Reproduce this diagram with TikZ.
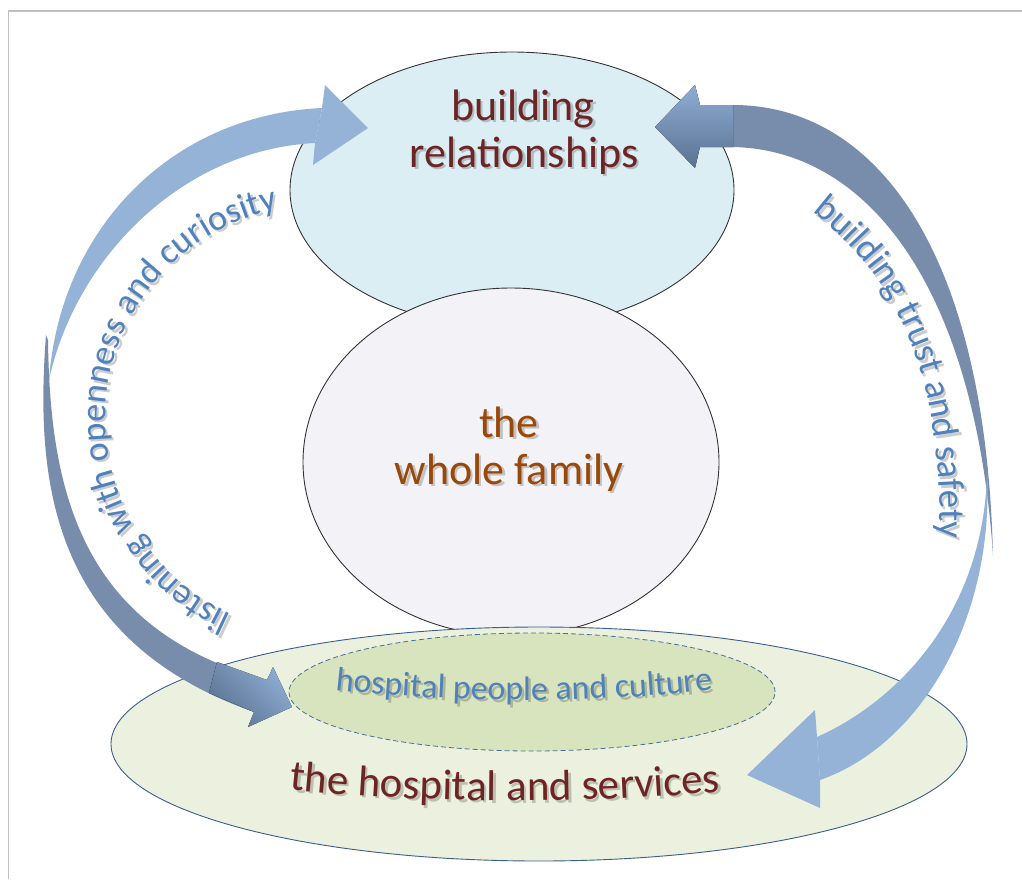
\documentclass[tikz,border=0pt]{standalone}
\usepackage{fontspec}
\setmainfont{Carlito}
\usetikzlibrary{shapes.geometric,decorations.text}

% palette
\definecolor{relfill}{HTML}{DBEEF4}
\definecolor{famfill}{HTML}{F3F2F7}
\definecolor{hospfill}{HTML}{EBF1DE}
\definecolor{culturefill}{HTML}{D7E4BD}
\definecolor{hospline}{HTML}{3B5E8C}
\definecolor{dashline}{HTML}{4A6E9C}
\definecolor{bandlight}{HTML}{95B3D7}
\definecolor{banddark}{HTML}{778DAB}
\definecolor{headlight}{HTML}{8FADD4}
\definecolor{headdark}{HTML}{5A7291}
\definecolor{wine}{HTML}{6E2424}
\definecolor{rust}{HTML}{984807}
\definecolor{steel}{HTML}{4F81BD}
\definecolor{framegray}{HTML}{C0C0C0}

\tikzset{
  bubble/.style={ellipse, inner sep=0pt, line width=0.9pt},
  title/.style={font=\fontsize{44}{48}\selectfont, anchor=base, inner sep=0pt},
  lightband/.style={fill=bandlight, draw=none},
  darkband/.style={fill=banddark, draw=none},
  turnhead/.style={draw=none, top color=headlight, bottom color=headdark},
}

% straight title text with a soft drop shadow
\newcommand\shadowtitle[4]{%
  \node[title, text=black, text opacity=0.2, shift={(2.5,2.5)}] at #2 {#4};
  \node[title, text=#3] (#1) at #2 {#4};
}

% text set along a path, with the same soft shadow: path, size, colour, alignment, text
\newcommand\arctext[5]{%
  \begin{scope}[shift={(2.5,2.5)}, opacity=0.2]
    \path[decorate, decoration={text along path, text align=#4, text color=black,
      text={|\fontsize{#2}{#2}\selectfont|#5}}] #1;
  \end{scope}
  \path[decorate, decoration={text along path, text align=#4, text color=#3,
        text={|\fontsize{#2}{#2}\selectfont|#5}}] #1;
}

\begin{document}
\begin{tikzpicture}[x=1pt, y=-1pt]
\useasboundingbox (0,0) rectangle (1022,879);

% page frame
\draw[framegray, line width=1.5pt] (8.5,879) -- (8.5,11) -- (1022,11);

% the three levels
\node[bubble, draw=black!80, fill=relfill, minimum width=444pt, minimum height=276pt] (rel) at (512,190) {};
\node[bubble, draw=black!80, fill=famfill, minimum width=416pt, minimum height=348pt] (fam) at (511,462) {};
\node[bubble, draw=hospline, fill=hospfill, minimum width=856pt, minimum height=234pt] (hosp) at (539,744) {};
\node[bubble, draw=dashline, line width=0.8pt, dash pattern=on 5pt off 3pt, fill=culturefill,
      minimum width=486pt, minimum height=118pt] (cult) at (532,692) {};

% left curved arrow: front face, then back face
\fill[lightband] (322,108) .. controls (170,115) and (60,230) .. (49,380)
                 .. controls (75,260) and (180,150) .. (315,143) -- cycle;
\fill[lightband] (322,108) -- (325,85) -- (368,128) -- (313,165) -- (315,143) -- cycle;
\fill[darkband] (46,335) .. controls (35,480) and (50,640) .. (254,712)
                -- (267,680) .. controls (80,630) and (50,490) .. (48,340) -- cycle;
\fill[turnhead, shading angle=-45] (217,662) -- (267,680) -- (273,667) -- (292,707)
                -- (248,727) -- (254,712) -- (209,693) -- cycle;

% right curved arrow: back face, then front face
\fill[darkband] (733,105) .. controls (870,105) and (985,240) .. (993,555)
                .. controls (975,290) and (870,150) .. (733,147) -- cycle;
\fill[turnhead] (733,105) -- (700,105) -- (695,85) -- (655,127) -- (695,168)
                -- (700,147) -- (733,147) -- cycle;
\fill[lightband] (987,470) .. controls (995,620) and (920,745) .. (820,780)
                 -- (817,737) .. controls (900,700) and (985,610) .. (987,470) -- cycle;
\fill[lightband] (817,737) -- (815,710) -- (747,775) -- (820,808) -- (820,780) -- cycle;

% labels
\shadowtitle{relA}{(523,120)}{wine}{building}
\shadowtitle{relB}{(524,167)}{wine}{relationships}
\shadowtitle{famA}{(509,437)}{rust}{the}
\shadowtitle{famB}{(509,484)}{rust}{whole family}

\arctext{(265,787) .. controls (420,805) and (600,805) .. (745,789)}{43}{wine}{center}{the hospital and services}
\arctext{(318,688) .. controls (450,704) and (600,704) .. (730,688)}{34}{steel}{center}{hospital people and culture}
\arctext{(253.4,622.7) arc[start angle=108, end angle=265, radius=214]}{36}{steel}{center}{listening with openness and curiosity}
\arctext{(812,212) .. controls (900,280) and (950,380) .. (938,580)}{37}{steel}{left}{building trust and safety}

\end{tikzpicture}
\end{document}
